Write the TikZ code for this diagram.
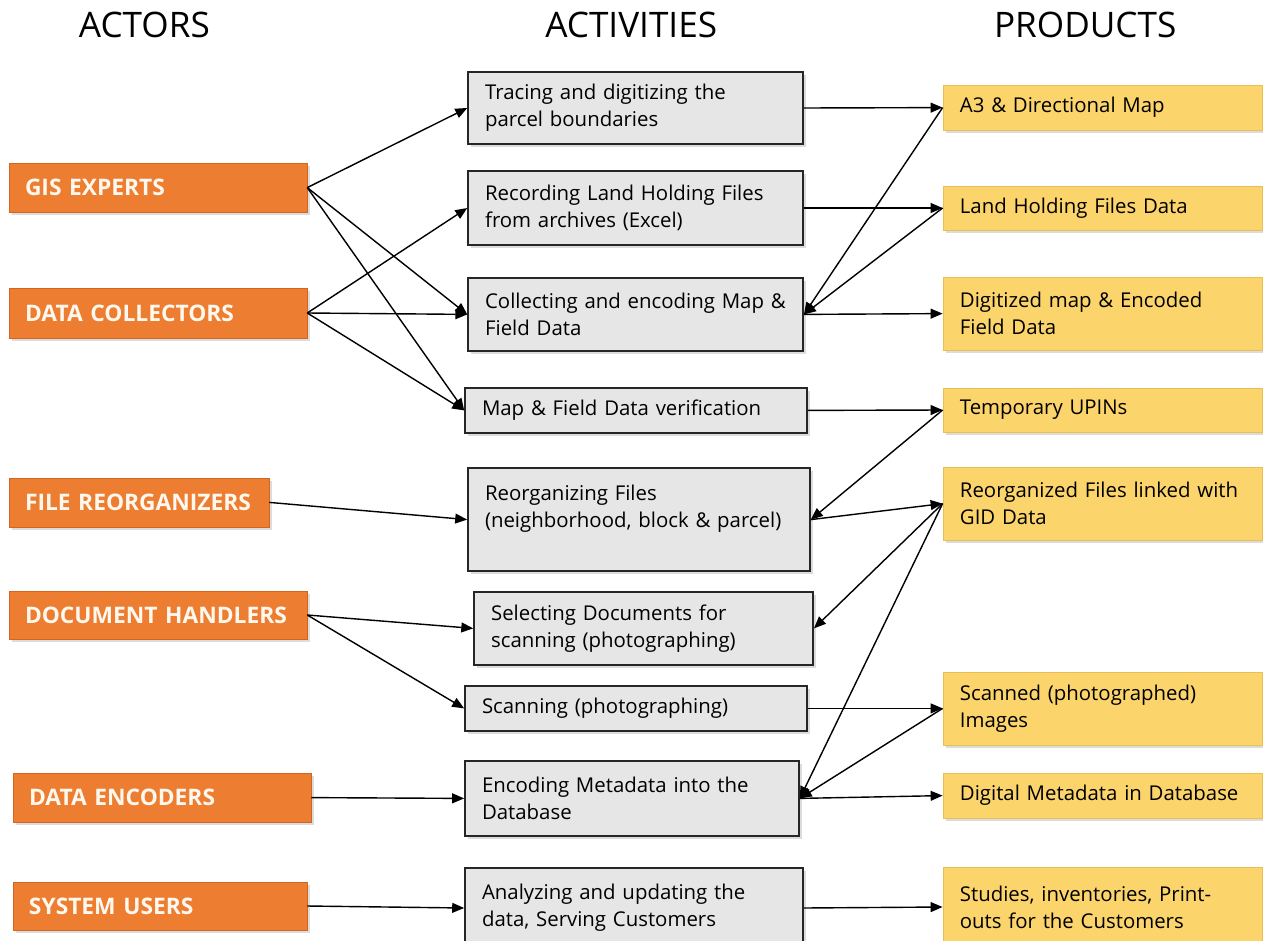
\documentclass[tikz,border=0pt]{standalone}
\usepackage{fontspec}
\setmainfont{Open Sans}
\usepackage{xcolor}
\usepackage{tikz}
\usetikzlibrary{arrows.meta, shadows}
\definecolor{actorfill}{HTML}{ED7D31}
\definecolor{actordraw}{HTML}{D2661E}
\definecolor{actortext}{HTML}{FFF8EE}
\definecolor{actfill}{HTML}{E7E6E6}
\definecolor{actdraw}{HTML}{262626}
\definecolor{prodfill}{HTML}{FBD46C}
\definecolor{proddraw}{HTML}{E8BE55}
\tikzset{
  boxshadow/.style={drop shadow={shadow xshift=2pt, shadow yshift=-2pt, opacity=0.28}},
  actornode/.style={draw=actordraw, fill=actorfill, boxshadow, minimum height=1.225cm, text width=6.65cm, inner xsep=0.4cm, align=left, text=actortext, font=\fontsize{16.2pt}{19pt}\selectfont\bfseries},
  actnode/.style={draw=actdraw, fill=actfill, line width=1.2pt, boxshadow, minimum height=1.825cm, text width=7.525cm, inner xsep=0.425cm, align=left, font=\fontsize{14.5pt}{19.2pt}\selectfont},
  prodnode/.style={draw=proddraw, fill=prodfill, boxshadow, minimum height=1.125cm, text width=7.125cm, inner xsep=0.425cm, align=left, font=\fontsize{14.5pt}{19.2pt}\selectfont},
  flowline/.style={-{Triangle[length=8.5pt,width=7pt]}, line width=1pt},
  headlabel/.style={font=\fontsize{25pt}{30pt}\selectfont, anchor=base}
}
\begin{document}
\begin{tikzpicture}
  \useasboundingbox (0,0) rectangle (31.575,-23.525);

  % column headings
  \node[headlabel] at (3.61,-0.95) (hactors) {ACTORS};
  \node[headlabel] at (15.78,-0.95) (hacts) {ACTIVITIES};
  \node[headlabel] at (27.13,-0.95) (hprods) {PRODUCTS};

  % actors
  \node[actornode] at (3.95,-4.69) (gis) {GIS EXPERTS};
  \node[actornode, minimum height=1.25cm] at (3.95,-7.825) (dcol) {DATA COLLECTORS};
  \node[actornode, text width=5.7cm] at (3.475,-12.56) (freorg) {FILE REORGANIZERS};
  \node[actornode, minimum height=1.2cm] at (3.95,-15.375) (dhand) {DOCUMENT HANDLERS};
  \node[actornode] at (4.05,-19.94) (denc) {DATA ENCODERS};
  \node[actornode, minimum height=1.2cm, text width=6.55cm] at (4.0,-22.65) (susers) {SYSTEM USERS};

  % activities
  \node[actnode, minimum height=1.8cm] at (15.89,-2.70) (trace)
    {Tracing and digitizing the\\parcel boundaries};
  \node[actnode, minimum height=1.85cm] at (15.89,-5.20) (record)
    {Recording Land Holding Files\\from archives (Excel)};
  \node[actnode] at (15.89,-7.86) (collect)
    {Collecting and encoding Map \&\\Field Data};
  \node[actnode, minimum height=1.125cm, text width=7.7cm] at (15.9,-10.26) (verify)
    {Map \& Field Data verification};
  \node[actnode, minimum height=2.575cm, text width=7.7cm] at (15.975,-12.99) (reorg)
    {Reorganizing Files\\(neighborhood, block \& parcel)\\~};
  \node[actnode, text width=7.625cm] at (16.09,-15.71) (select)
    {Selecting Documents for\\scanning (photographing)};
  \node[actnode, minimum height=1.125cm, text width=7.7cm] at (15.9,-17.71) (scan)
    {Scanning (photographing)};
  \node[actnode, minimum height=1.875cm, text width=7.5cm] at (15.8,-19.96) (encode)
    {Encoding Metadata into the\\Database};
  \node[actnode, minimum height=2.0cm, text width=7.6cm] at (15.85,-22.7) (analyze)
    {Analyzing and updating the\\data, Serving Customers};

  % products
  \node[prodnode] at (27.56,-2.69) (map) {A3 \& Directional Map};
  \node[prodnode, minimum height=1.1cm] at (27.56,-5.2) (landdata) {Land Holding Files Data};
  \node[prodnode, minimum height=1.825cm] at (27.56,-7.84) (digimap)
    {Digitized map \& Encoded\\Field Data};
  \node[prodnode, minimum height=1.1cm] at (27.56,-10.25) (upin) {Temporary UPINs};
  \node[prodnode, minimum height=1.825cm] at (27.56,-12.59) (linked)
    {Reorganized Files linked with\\GID Data};
  \node[prodnode, minimum height=1.825cm] at (27.56,-17.71) (images)
    {Scanned (photographed)\\Images};
  \node[prodnode] at (27.56,-19.89) (metadata) {Digital Metadata in Database};
  \node[prodnode, minimum height=2.0cm] at (27.56,-22.675) (studies)
    {Studies, inventories, Print-\\outs for the Customers};

  % actors to activities
  \draw[flowline] (gis.east) -- (trace.west);
  \draw[flowline] (gis.east) -- (collect.west);
  \draw[flowline] (gis.east) -- (verify.west);
  \draw[flowline] (dcol.east) -- (record.west);
  \draw[flowline] (dcol.east) -- (collect.west);
  \draw[flowline] (dcol.east) -- (verify.west);
  \draw[flowline] (freorg.east) -- (reorg.west);
  \draw[flowline] (dhand.east) -- (select.west);
  \draw[flowline] (dhand.east) -- (scan.west);
  \draw[flowline] (denc.east) -- (encode.west);
  \draw[flowline] (susers.east) -- (analyze.west);

  % activities to products, and products fed back
  \draw[flowline] (trace.east) -- (map.west);
  \draw[flowline] (record.east) -- (landdata.west);
  \draw[flowline] (collect.east) -- (digimap.west);
  \draw[flowline] (map.west) -- (collect.east);
  \draw[flowline] (landdata.west) -- (collect.east);
  \draw[flowline] (verify.east) -- (upin.west);
  \draw[flowline] (upin.west) -- (reorg.east);
  \draw[flowline] (reorg.east) -- (linked.west);
  \draw[flowline] (linked.west) -- (select.east);
  \draw[flowline] (linked.west) -- (encode.east);
  \draw[flowline] (scan.east) -- (images.west);
  \draw[flowline] (images.west) -- (encode.east);
  \draw[flowline] (encode.east) -- (metadata.west);
  \draw[flowline] (analyze.east) -- (studies.west);
\end{tikzpicture}
\end{document}
